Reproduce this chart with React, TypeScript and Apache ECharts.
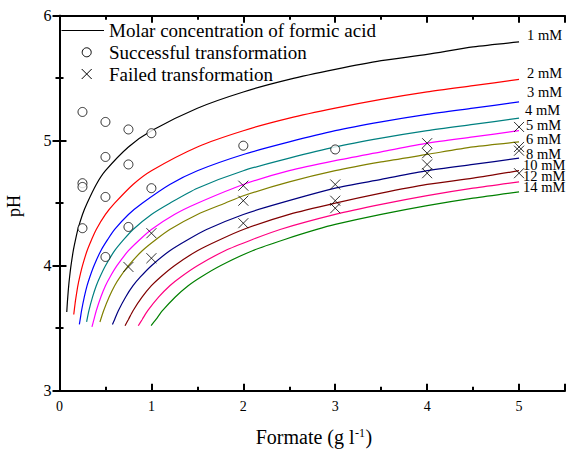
import React, { useEffect, useRef } from 'react';
import * as echarts from 'echarts';

const SERIF = 'Liberation Serif';

const curveNames = ['1 mM', '2 mM', '3 mM', '4 mM', '5 mM', '6 mM', '8 mM', '10 mM', '12 mM', '14 mM'];
const curveColors = ['#000000', '#ff0000', '#0000ff', '#008080', '#ff00ff', '#808000', '#000080', '#800000', '#ff0080', '#008000'];

const c1mM = [[0.079,3.63],[0.085,3.70],[0.09,3.75],[0.1,3.84],[0.11,3.91],[0.125,4.00],[0.15,4.12],[0.175,4.21],[0.2,4.29],[0.25,4.41],[0.3,4.50],[0.4,4.65],[0.5,4.76],[0.75,4.95],[1,5.08],[1.5,5.26],[2,5.39],[2.5,5.49],[3,5.57],[3.5,5.64],[4,5.69],[4.5,5.75],[5,5.79]];
const c2mM = [[0.155,3.61],[0.17,3.70],[0.18,3.75],[0.2,3.84],[0.22,3.91],[0.25,4.00],[0.3,4.12],[0.35,4.21],[0.4,4.29],[0.5,4.41],[0.6,4.50],[0.8,4.65],[1,4.76],[1.5,4.95],[2,5.08],[2.5,5.18],[3,5.26],[3.5,5.33],[4,5.39],[4.5,5.44],[5,5.49]];
const c3mM = [[0.216,3.53],[0.225,3.57],[0.24,3.64],[0.27,3.75],[0.3,3.84],[0.33,3.91],[0.375,4.00],[0.45,4.12],[0.525,4.21],[0.6,4.29],[0.75,4.41],[0.9,4.50],[1.2,4.65],[1.5,4.76],[2,4.89],[2.5,4.99],[3,5.08],[3.5,5.15],[4,5.21],[4.5,5.26],[5,5.31]];
const c4mM = [[0.295,3.55],[0.32,3.64],[0.36,3.75],[0.4,3.84],[0.44,3.91],[0.5,4.00],[0.6,4.12],[0.7,4.21],[0.8,4.29],[1,4.41],[1.2,4.50],[1.5,4.62],[2,4.76],[2.5,4.86],[3,4.95],[3.5,5.02],[4,5.08],[4.5,5.13],[5,5.18]];
const c5mM = [[0.353,3.51],[0.375,3.57],[0.4,3.64],[0.45,3.75],[0.5,3.84],[0.55,3.91],[0.625,4.00],[0.75,4.12],[0.875,4.21],[1,4.29],[1.25,4.41],[1.5,4.50],[2,4.65],[2.5,4.76],[3,4.84],[3.5,4.91],[4,4.98],[4.5,5.03],[5,5.08]];
const c6mM = [[0.44,3.55],[0.48,3.64],[0.54,3.75],[0.6,3.84],[0.66,3.91],[0.75,4.00],[0.9,4.12],[1.05,4.21],[1.2,4.29],[1.5,4.41],[1.8,4.50],[2,4.56],[2.5,4.67],[3,4.76],[3.5,4.83],[4,4.89],[4.5,4.95],[5,4.99]];
const c8mM = [[0.576,3.53],[0.6,3.57],[0.64,3.64],[0.72,3.75],[0.8,3.84],[0.88,3.91],[1,4.00],[1.2,4.12],[1.4,4.21],[1.6,4.29],[2,4.41],[2.4,4.50],[3,4.62],[3.5,4.69],[4,4.76],[4.5,4.81],[5,4.86]];
const c10mM = [[0.713,3.52],[0.75,3.57],[0.8,3.64],[0.9,3.75],[1,3.84],[1.1,3.91],[1.25,4.00],[1.5,4.12],[1.75,4.21],[2,4.29],[2.5,4.41],[3,4.50],[3.5,4.58],[4,4.65],[4.5,4.70],[5,4.76]];
const c12mM = [[0.857,3.52],[0.9,3.57],[0.96,3.64],[1.08,3.75],[1.2,3.84],[1.32,3.91],[1.5,4.00],[1.8,4.12],[2.1,4.21],[2.4,4.29],[3,4.41],[3.5,4.49],[4,4.56],[4.5,4.62],[5,4.67]];
const c14mM = [[0.997,3.52],[1.05,3.57],[1.12,3.64],[1.26,3.75],[1.4,3.84],[1.54,3.91],[1.75,4.00],[2.1,4.12],[2.45,4.21],[2.8,4.29],[3,4.33],[3.5,4.41],[4,4.48],[4.5,4.54],[5,4.59]];
const curves = [c1mM, c2mM, c3mM, c4mM, c5mM, c6mM, c8mM, c10mM, c12mM, c14mM];

const successful = [[0.25,5.23],[0.25,4.66],[0.25,4.63],[0.25,4.30],[0.5,5.15],[0.5,4.87],[0.5,4.55],[0.5,4.07],[0.75,5.09],[0.75,4.81],[0.75,4.31],[1,5.06],[1,4.62],[2,4.96],[3,4.93]];
const failed = [[0.75,3.99],[1,4.26],[1,4.06],[2,4.64],[2,4.52],[2,4.34],[3,4.65],[3,4.52],[3,4.46],[4,4.98],[4,4.90],[4,4.81],[4,4.74],[5,5.11],[5,4.95],[5,4.92],[5,4.74]];

const legendNames = ['Molar concentration of formic acid', 'Successful transformation', 'Failed transformation'];

const labelDistance = [8, 8, 8, 6, 7, 7, 7, 4, 4, 4];
const labelShift = [-7, -6, -10, -8, -6, -2.5, -4, -5.5, -6, -4.5];

const X_MIN = 0, X_MAX = 5.5, Y_MIN = 3, Y_MAX = 6;

export default function App() {
  const ref = useRef<HTMLDivElement>(null);
  useEffect(() => {
    if (!ref.current) return;
    const chart = echarts.init(ref.current, null, { renderer: 'svg' });
    const axisLine = { show: true, lineStyle: { color: '#000', width: 2 } };
    const majorTick = { show: true, inside: true, length: 7, lineStyle: { color: '#000', width: 2 } };
    const minorTickAxis = { show: true, inside: true, length: 4, lineStyle: { color: '#000', width: 2 } };
    const xBase = { type: 'value', min: X_MIN, max: X_MAX, gridIndex: 0, splitLine: { show: false } };
    const lineSeries = curves.map((d, i) => ({
      type: 'line',
      name: curveNames[i],
      data: d,
      xAxisIndex: 0,
      yAxisIndex: 0,
      symbol: 'none',
      showSymbol: false,
      smooth: 0.25,
      lineStyle: { color: curveColors[i], width: 1.2 },
      itemStyle: { color: curveColors[i] },
      z: 2,
      endLabel: {
        show: true,
        formatter: curveNames[i],
        distance: labelDistance[i],
        offset: [0, labelShift[i]],
        color: '#000',
        fontFamily: SERIF,
        fontSize: 14.5,
      },
    }));
    const option: any = {
      animation: false,
      backgroundColor: '#fff',
      grid: { left: 59.5, top: 15.7, width: 509.9, height: 375 },
      xAxis: [
        { ...xBase, position: 'bottom', interval: 1, axisLine, axisTick: majorTick,
          axisLabel: { show: true, margin: 9, color: '#000', fontFamily: SERIF, fontSize: 14,
            formatter: (v: number) => (v > 5.25 ? '' : String(v)) } },
        { ...xBase, position: 'bottom', interval: 0.5, axisLine: { show: false }, axisTick: minorTickAxis, axisLabel: { show: false } },
        { ...xBase, position: 'top', interval: 1, axisLine, axisTick: majorTick, axisLabel: { show: false } },
        { ...xBase, position: 'top', interval: 0.5, axisLine: { show: false }, axisTick: minorTickAxis, axisLabel: { show: false } },
      ],
      yAxis: [
        { type: 'value', min: Y_MIN, max: Y_MAX, interval: 1, position: 'left', axisLine, axisTick: majorTick,
          minorTick: { show: true, splitNumber: 2, length: 4, lineStyle: { color: '#000', width: 2 } },
          splitLine: { show: false }, minorSplitLine: { show: false },
          axisLabel: { show: true, margin: 8, color: '#000', fontFamily: SERIF, fontSize: 16 } },
        { type: 'value', min: Y_MIN, max: Y_MAX, interval: 1, position: 'right', axisLine, axisTick: majorTick,
          minorTick: { show: true, splitNumber: 2, length: 4, lineStyle: { color: '#000', width: 2 } },
          splitLine: { show: false }, axisLabel: { show: false } },
      ],
      series: [
        ...lineSeries,
        {
          type: 'scatter', name: legendNames[1], data: successful, xAxisIndex: 0, yAxisIndex: 0,
          symbol: 'circle', symbolSize: 9, z: 5,
          itemStyle: { color: '#fff', borderColor: '#000', borderWidth: 1 },
        },
        {
          type: 'scatter', name: legendNames[2], data: failed, xAxisIndex: 0, yAxisIndex: 0,
          symbol: 'path://M0,0L10,10M0,10L10,0', symbolSize: 10, z: 5,
          itemStyle: { color: 'none', borderColor: '#000', borderWidth: 1 },
        },
      ],
      graphic: [
        { type: 'line', shape: { x1: 61.5, y1: 30.5, x2: 104, y2: 30.5 }, style: { stroke: '#000', lineWidth: 1 } },
        { type: 'text', x: 109, y: 30, style: { text: legendNames[0], fontFamily: SERIF, fontSize: 19, fill: '#000', verticalAlign: 'middle', align: 'left' } },
        { type: 'circle', shape: { cx: 86.7, cy: 52.3, r: 4.5 }, style: { fill: '#fff', stroke: '#000', lineWidth: 1 } },
        { type: 'text', x: 109, y: 52.3, style: { text: legendNames[1], fontFamily: SERIF, fontSize: 19, fill: '#000', verticalAlign: 'middle', align: 'left' } },
        { type: 'line', shape: { x1: 81.7, y1: 69, x2: 91.7, y2: 79 }, style: { stroke: '#000', lineWidth: 1 } },
        { type: 'line', shape: { x1: 81.7, y1: 79, x2: 91.7, y2: 69 }, style: { stroke: '#000', lineWidth: 1 } },
        { type: 'text', x: 109, y: 74, style: { text: legendNames[2], fontFamily: SERIF, fontSize: 19, fill: '#000', verticalAlign: 'middle', align: 'left' } },
        { type: 'text', x: 255.7, y: 437, style: { text: 'Formate (g l', fontFamily: SERIF, fontSize: 20, fill: '#000', verticalAlign: 'middle', align: 'left' } },
        { type: 'text', x: 355, y: 432.5, style: { text: '-1', fontFamily: SERIF, fontSize: 12, fill: '#000', verticalAlign: 'middle', align: 'left' } },
        { type: 'text', x: 365.5, y: 437, style: { text: ')', fontFamily: SERIF, fontSize: 20, fill: '#000', verticalAlign: 'middle', align: 'left' } },
        { type: 'text', x: 14, y: 206, rotation: Math.PI / 2, style: { text: 'pH', fontFamily: SERIF, fontSize: 18, fill: '#000', verticalAlign: 'middle', align: 'center' } },
      ],
    };
    chart.setOption(option);
    return () => chart.dispose();
  }, []);
  return (
    <div
      ref={ref}
      style={{ position: 'absolute', left: 0, top: 0, width: 568, height: 449, background: '#fff' }}
    />
  );
}
